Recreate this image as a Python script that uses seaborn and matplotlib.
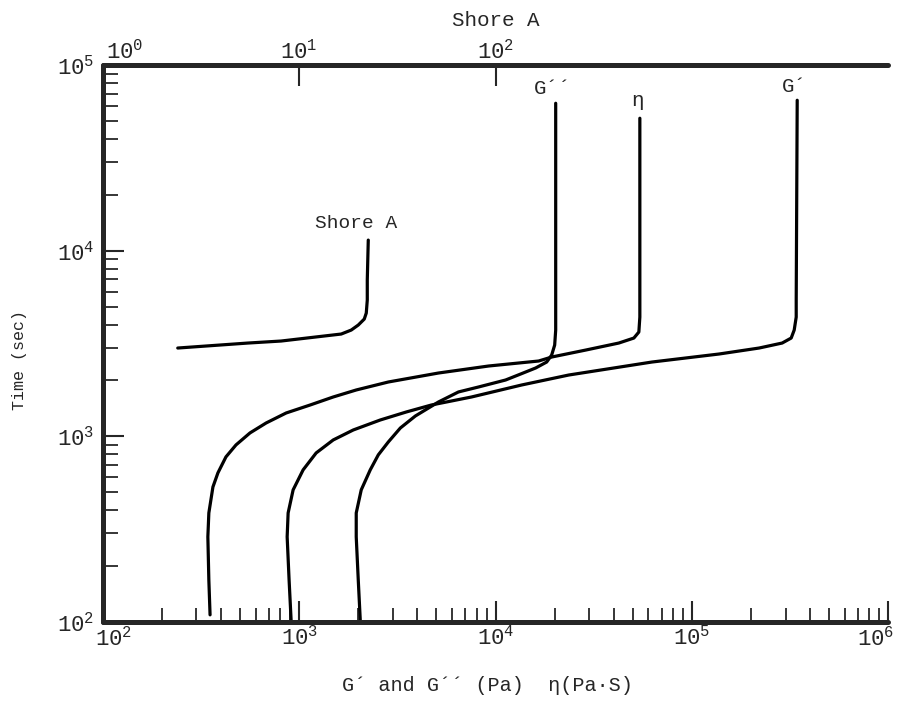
import matplotlib
matplotlib.use("Agg")
import matplotlib.pyplot as plt
import matplotlib.ticker as mticker
import numpy as np
import pandas as pd
import seaborn as sns

# Cure curves: modulus / viscosity (x) against time in seconds (y)
eta_x = [352, 347, 343, 347, 364, 386, 424, 477, 562, 679, 859, 1138, 1491, 1953, 2846,
         5120, 9211, 16570, 19310, 28790, 42420, 50600, 53650, 54280, 54280, 54280]
eta_t = [109, 168, 287, 386, 533, 635, 774, 898, 1042, 1179, 1335, 1474, 1628, 1776, 1961,
         2192, 2391, 2544, 2673, 2915, 3180, 3383, 3645, 4390, 5420, 51770]

g1_x = [910, 889, 869, 879, 932, 1048, 1221, 1491, 1886, 2590, 3516, 4716, 7545, 13570,
        23570, 62500, 137300, 219700, 287900, 320000, 331500, 339400, 339400, 343400]
g1_t = [102.5, 168, 287, 386, 514, 659, 813, 955, 1081, 1224, 1352, 1474, 1628, 1889,
        2138, 2512, 2775, 2989, 3180, 3383, 3736, 4390, 5420, 64710]

g2_x = [2047, 2000, 1953, 1953, 2071, 2302, 2530, 2846, 3276, 3906, 5120, 6475, 8190,
        11250, 13420, 16000, 18210, 19310, 20000, 20240, 20240]
g2_t = [102.5, 168, 287, 386, 514, 659, 794, 932, 1108, 1286, 1530, 1733, 1843,
        2010, 2165, 2333, 2512, 2741, 3102, 3736, 62340]

# Shore A hardness (top axis) against time
shore_x = [2.41, 5.49, 8.09, 12.07, 16.38, 18.42, 20.0, 21.46, 21.97, 22.23, 22.23, 22.49]
shore_t = [2989, 3180, 3260, 3425, 3556, 3736, 3976, 4282, 4613, 5420, 6945, 11410]

bottom_ticks = [1e2, 1e3, 1e4, 1e5, 1e6]
left_ticks = [1e2, 1e3, 1e4, 1e5]
top_ticks = [1, 10, 100]

curve_labels = ["G´´", "η", "G´"]
shore_label = "Shore A"
x_label = "G´ and G´´ (Pa)  η(Pa·S)"
y_label = "Time (sec)"
top_label = "Shore A"

sns.set_style("ticks")
plt.rcParams["font.family"] = ["Liberation Mono", "DejaVu Sans Mono"]
plt.rcParams["mathtext.fontset"] = "custom"
plt.rcParams["mathtext.rm"] = "Liberation Mono"
plt.rcParams["mathtext.it"] = "Liberation Mono"

TICK_FS = 16


def pow10(v):
    return r"$\mathdefault{10^{%d}}$" % int(round(np.log10(v)))


def pow10_except(skip):
    # decade labels, leaving the corner ones to be placed by hand
    def fmt(v, pos=None):
        if any(np.isclose(v, s) for s in skip):
            return ""
        return pow10(v)
    return mticker.FuncFormatter(fmt)


fig = plt.figure(figsize=(9.01, 7.01), dpi=100)
ax = fig.add_axes([0.114, 0.113, 0.872, 0.794])
ax.set_xscale("log")
ax.set_yscale("log")
ax.set_xlim(bottom_ticks[0], bottom_ticks[-1])
ax.set_ylim(left_ticks[0], left_ticks[-1])

lw = 2.3
for xs, ts in [(g2_x, g2_t), (eta_x, eta_t), (g1_x, g1_t)]:
    df = pd.DataFrame({"x": xs, "t": ts})
    sns.lineplot(data=df, x="x", y="t", sort=False, estimator=None,
                 color="black", lw=lw, ax=ax,
                 solid_joinstyle="round", solid_capstyle="round")

# curve tags above the upper ends
for xs, ts, lab, dy in [(g2_x, g2_t, curve_labels[0], 4),
                        (eta_x, eta_t, curve_labels[1], 6),
                        (g1_x, g1_t, curve_labels[2], 3)]:
    ax.annotate(lab, (xs[-1], ts[-1]), xytext=(-2, dy), textcoords="offset points",
                ha="center", va="bottom", fontsize=15)

# spines and ticks of the main axes
for s in ["left", "bottom", "top"]:
    ax.spines[s].set_linewidth(3.6)
    ax.spines[s].set_capstyle("round")
ax.spines["right"].set_visible(False)

ax.set_xticks(bottom_ticks)
ax.set_yticks(left_ticks)
ax.xaxis.set_minor_locator(mticker.LogLocator(base=10, subs=np.arange(2, 10), numticks=20))
ax.yaxis.set_minor_locator(mticker.LogLocator(base=10, subs=np.arange(2, 10), numticks=20))
ax.xaxis.set_major_formatter(pow10_except([bottom_ticks[0], bottom_ticks[-1]]))
ax.yaxis.set_major_formatter(pow10_except([]))
ax.xaxis.set_minor_formatter(mticker.NullFormatter())
ax.yaxis.set_minor_formatter(mticker.NullFormatter())

ax.tick_params(axis="x", which="major", direction="in", length=15, width=1.5,
               top=False, bottom=True, labelsize=TICK_FS, pad=3)
ax.tick_params(axis="x", which="minor", direction="in", length=10, width=1.3,
               top=False, bottom=True)
ax.tick_params(axis="y", which="major", direction="in", length=15, width=1.5,
               right=False, left=True, labelsize=TICK_FS, pad=6)
ax.tick_params(axis="y", which="minor", direction="in", length=11, width=1.3,
               right=False, left=True)

# corner decade labels of the bottom axis, nudged off the frame corners
for v, dx in [(bottom_ticks[0], 8), (bottom_ticks[-1], -9)]:
    ax.annotate(pow10(v), (v, 0), xycoords=("data", "axes fraction"),
                xytext=(dx, -3.2), textcoords="offset points",
                ha="center", va="top", fontsize=TICK_FS)

ax.set_xlabel(x_label, fontsize=14.5, va="center")
ax.xaxis.set_label_coords(0.49, -0.115)
ax.set_ylabel(y_label, fontsize=12)
ax.yaxis.set_label_coords(-0.097, 0.47)

# Shore A on the top axis
ax2 = ax.twiny()
ax2.set_xscale("log")
ax2.set_xlim(1, 1e4)
df_s = pd.DataFrame({"x": shore_x, "t": shore_t})
sns.lineplot(data=df_s, x="x", y="t", sort=False, estimator=None,
             color="black", lw=lw, ax=ax2,
             solid_joinstyle="round", solid_capstyle="round")
ax2.annotate(shore_label, (shore_x[-1], shore_t[-1]), xytext=(-9, 6),
             textcoords="offset points", ha="center", va="bottom", fontsize=14)
for s in ax2.spines.values():
    s.set_visible(False)
ax2.set_xticks(top_ticks)
ax2.xaxis.set_major_formatter(pow10_except([top_ticks[0]]))
ax2.xaxis.set_minor_locator(mticker.NullLocator())
ax2.tick_params(axis="x", which="major", direction="in", length=15, width=1.5,
                top=True, bottom=False, labeltop=True, labelbottom=False,
                labelsize=TICK_FS, pad=1)
ax2.annotate(pow10(top_ticks[0]), (top_ticks[0], 1), xycoords=("data", "axes fraction"),
             xytext=(16, 1), textcoords="offset points",
             ha="center", va="bottom", fontsize=TICK_FS)
ax2.set_xlabel(top_label, fontsize=15, labelpad=10)
ax2.xaxis.set_label_position("top")
ax2.set_ylabel("")

fig.savefig("out.png", dpi=100)
